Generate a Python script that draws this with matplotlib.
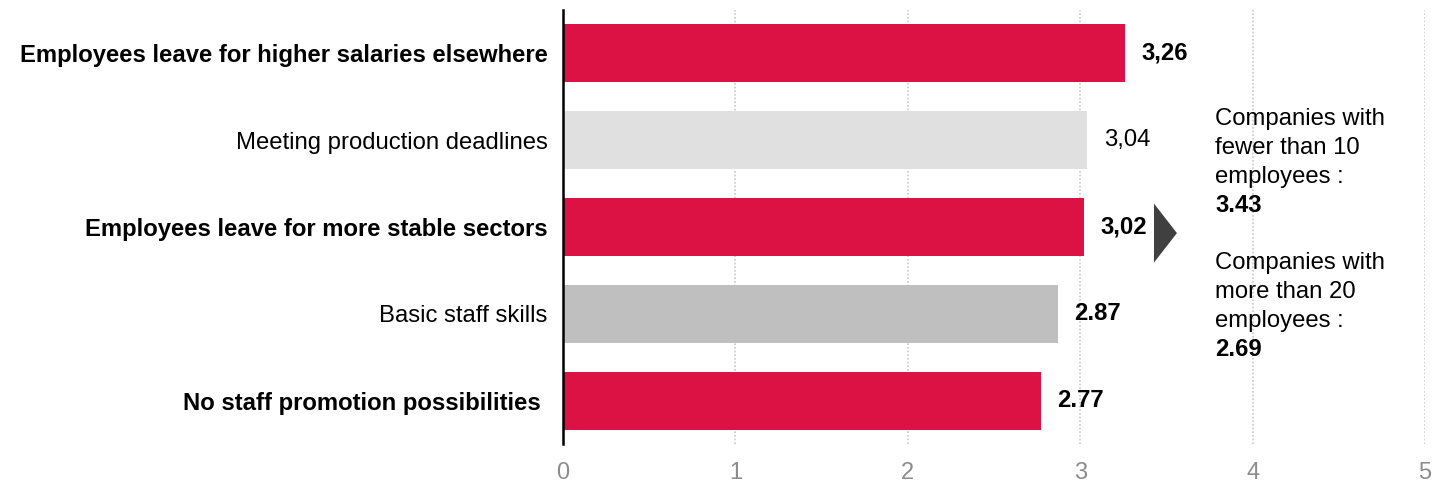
import matplotlib
matplotlib.use("Agg")
import matplotlib.pyplot as plt
from matplotlib.patches import Polygon

plt.rcParams["font.family"] = ["Liberation Sans", "DejaVu Sans"]

# ---------------------------------------------------------------------------
# Data
# ---------------------------------------------------------------------------
categories = [
    "Employees leave for higher salaries elsewhere",
    "Meeting production deadlines",
    "Employees leave for more stable sectors",
    "Basic staff skills",
    "No staff promotion possibilities ",
]
values = [3.26, 3.04, 3.02, 2.87, 2.77]
value_labels = ["3,26", "3,04", "3,02", "2.87", "2.77"]
bar_colors = ["#dc1245", "#e0e0e0", "#dc1245", "#bfbfbf", "#dc1245"]
bold_cats = [True, False, True, False, True]
bold_vals = [True, False, True, True, True]

small_lines = ["Companies with", "fewer than 10", "employees :"]
small_value = "3.43"
large_lines = ["Companies with", "more than 20", "employees :"]
large_value = "2.69"

FS = 17.2

# ---------------------------------------------------------------------------
# Figure
# ---------------------------------------------------------------------------
fig = plt.figure(figsize=(14.34, 4.84), dpi=100)
ax = fig.add_axes([563 / 1434, 1 - 444 / 484, 862 / 1434, 434 / 484])

y = list(range(len(categories)))
ax.barh(y, values, height=0.667, color=bar_colors, zorder=2)

ax.set_xlim(0, 5)
ax.set_ylim(len(categories) - 0.5, -0.5)

# value labels at bar ends
for yi, v, lab, b in zip(y, values, value_labels, bold_vals):
    ax.annotate(lab, (v, yi), xytext=(12, 0), textcoords="offset points",
                ha="left", va="center", fontsize=FS,
                fontweight="bold" if b else "normal", color="#000000")

# category labels
ax.set_yticks(y)
ax.set_yticklabels(categories, fontsize=FS)
for lab, b in zip(ax.get_yticklabels(), bold_cats):
    lab.set_fontweight("bold" if b else "normal")
ax.tick_params(axis="y", length=0, pad=11)

ax.set_xticks(range(0, 6))
ax.tick_params(axis="x", length=0, pad=13, labelsize=17, labelcolor="#8c8c8c")

# dotted vertical grid
for gx in range(1, 6):
    ax.axvline(gx, color="#c8c8c8", linestyle=(0, (1, 1.2)), linewidth=1.2, zorder=1)

for s in ["top", "right", "bottom"]:
    ax.spines[s].set_visible(False)
ax.spines["left"].set_linewidth(1.8)
ax.spines["left"].set_color("#000000")

# arrow pointing to the size breakdown
tri = Polygon([[3.428, 1.73], [3.428, 2.41], [3.561, 2.07]], closed=True,
              facecolor="#404040", edgecolor="none", zorder=3, clip_on=False)
ax.add_patch(tri)

# side notes, one line at a time
tx = 1215 / 1434
step = 29


def note(lines, value, top_px):
    for i, line in enumerate(lines):
        fig.text(tx, 1 - (top_px + i * step) / 484, line, ha="left",
                 va="center", fontsize=FS)
    fig.text(tx, 1 - (top_px + len(lines) * step) / 484, value, ha="left",
             va="center", fontsize=FS, fontweight="bold")


note(small_lines, small_value, 119)
note(large_lines, large_value, 263)

fig.savefig("out.png", dpi=100)
